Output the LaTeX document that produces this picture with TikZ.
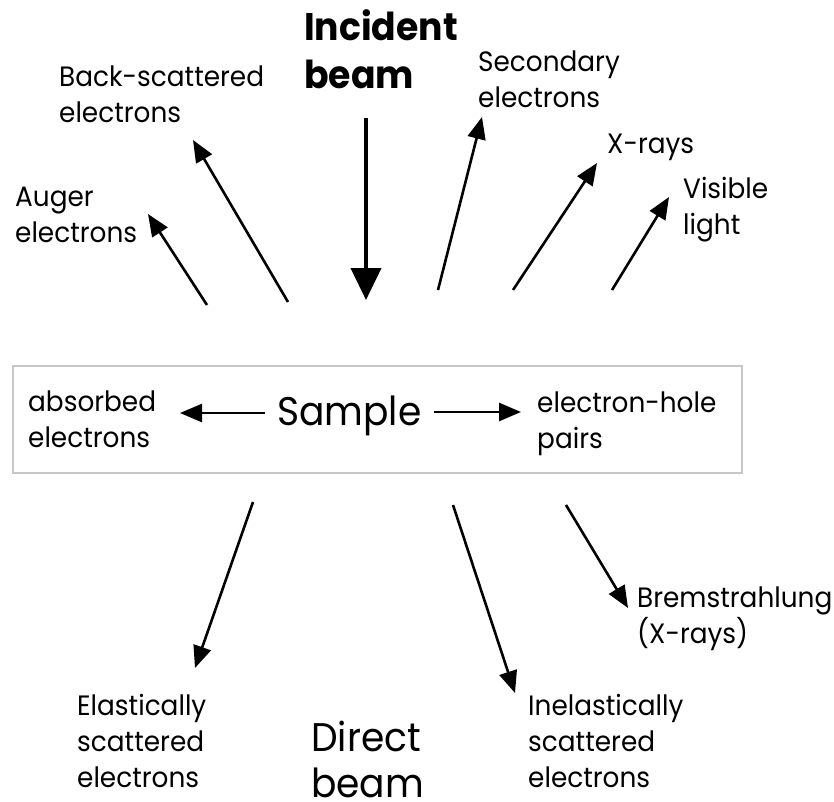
\documentclass[tikz,border=0pt]{standalone}
\usepackage{fontspec}
\setmainfont{Poppins}[FakeStretch=0.94]
\usetikzlibrary{arrows.meta}
\tikzset{
  lbl/.style={anchor=base west, align=left, inner sep=0pt, font=\fontsize{28}{36}\selectfont},
  bigtxt/.style={anchor=base west, align=left, inner sep=0pt, font=\fontsize{40}{46}\selectfont},
  arr/.style={line width=2.6pt, -{Triangle[length=22pt,width=18pt]}},
  bigarr/.style={line width=4pt, -{Triangle[length=32pt,width=30pt]}},
  samplebox/.style={draw=black!22, line width=1.5pt}
}
\begin{document}
\begin{tikzpicture}[x=1pt,y=-1pt]
\useasboundingbox (0,0) rectangle (834,801);
% sample box
\draw[samplebox] (13,366) rectangle (742,473);
% labels (anchored at the baseline of their last line)
\node[bigtxt, font=\fontsize{38.5}{48}\bfseries\selectfont] (incident) at (304,88) {Incident\\beam};
\node[lbl] (back) at (59,122) {Back-scattered\\electrons};
\node[lbl] (auger) at (15,242) {Auger\\electrons};
\node[lbl] (second) at (478,107) {Secondary\\electrons};
\node[lbl] (xrays) at (607,153) {X-rays};
\node[lbl] (visible) at (683,234) {Visible\\light};
\node[lbl] (absorbed) at (28,447) {absorbed\\electrons};
\node[bigtxt] (sample) at (277,425) {Sample};
\node[lbl] (ehole) at (537,448) {electron-hole\\pairs};
\node[lbl] (brems) at (637,643) {Bremstrahlung\\(X-rays)};
\node[lbl] (elastic) at (77,787) {Elastically\\scattered\\electrons};
\node[bigtxt] (direct) at (311,797) {Direct\\beam};
\node[lbl] (inelastic) at (528,787) {Inelastically\\scattered\\electrons};
% arrow end points
\coordinate (incT) at (366,118);  \coordinate (incH) at (366,300);
\coordinate (augT) at (207,305);  \coordinate (augH) at (148,214);
\coordinate (bseT) at (288,302);  \coordinate (bseH) at (193,140);
\coordinate (secT) at (438,290);  \coordinate (secH) at (482,117);
\coordinate (xrT) at (513,290);   \coordinate (xrH) at (597,163);
\coordinate (visT) at (612,290);  \coordinate (visH) at (669,197);
\coordinate (absT) at (265,413);  \coordinate (absH) at (180,413);
\coordinate (ehT) at (434,412);   \coordinate (ehH) at (521,412);
\coordinate (elT) at (253,502);   \coordinate (elH) at (195,668);
\coordinate (inT) at (453,505);   \coordinate (inH) at (515,693);
\coordinate (brT) at (566,505);   \coordinate (brH) at (628,608);
% arrows
\draw[bigarr] (incT) -- (incH);
\draw[arr] (augT) -- (augH);
\draw[arr] (bseT) -- (bseH);
\draw[arr] (secT) -- (secH);
\draw[arr] (xrT) -- (xrH);
\draw[arr] (visT) -- (visH);
\draw[arr] (absT) -- (absH);
\draw[arr] (ehT) -- (ehH);
\draw[arr] (elT) -- (elH);
\draw[arr] (inT) -- (inH);
\draw[arr] (brT) -- (brH);
\end{tikzpicture}
\end{document}
